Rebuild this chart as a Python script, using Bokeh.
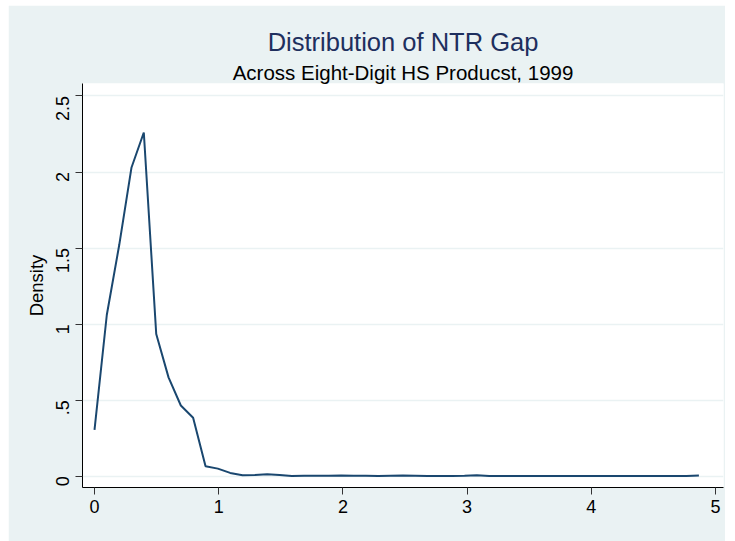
from bokeh.plotting import figure
from bokeh.models import Title, FixedTicker, Range1d
from bokeh.embed import file_html
from bokeh.resources import INLINE

ntr_gap = [0.000, 0.099, 0.199, 0.298, 0.397, 0.497, 0.596, 0.695, 0.794, 0.894,
           0.993, 1.092, 1.192, 1.291, 1.390, 1.490, 1.589, 1.688, 1.787, 1.887,
           1.986, 2.085, 2.185, 2.284, 2.383, 2.483, 2.582, 2.681, 2.780, 2.880,
           2.979, 3.078, 3.178, 3.277, 3.376, 3.476, 3.575, 3.674, 3.773, 3.873,
           3.972, 4.071, 4.171, 4.270, 4.369, 4.469, 4.568, 4.667, 4.766, 4.866]
density = [0.305, 1.060, 1.520, 2.030, 2.260, 0.935, 0.650, 0.465, 0.385, 0.065,
           0.050, 0.022, 0.007, 0.008, 0.013, 0.008, 0.002, 0.004, 0.004, 0.004,
           0.005, 0.004, 0.004, 0.002, 0.004, 0.005, 0.004, 0.002, 0.002, 0.002,
           0.003, 0.006, 0.002, 0.002, 0.002, 0.002, 0.002, 0.002, 0.002, 0.002,
           0.002, 0.002, 0.002, 0.002, 0.002, 0.002, 0.002, 0.002, 0.002, 0.005]

x_ticks = [0, 1, 2, 3, 4, 5]
y_ticks = [0, 0.5, 1, 1.5, 2, 2.5]
y_tick_labels = ["0", ".5", "1", "1.5", "2", "2.5"]

FONT = "Liberation Sans"
BG = "#eaf2f3"
NAVY = "#1a476f"

p = figure(width=717, height=536, output_backend="svg", toolbar_location=None,
           x_range=Range1d(-0.0966, 5.064), y_range=Range1d(-0.074, 2.582),
           min_border_left=74, min_border_right=2, min_border_top=78, min_border_bottom=54)
p.margin = (5, 0, 0, 8)

p.add_layout(Title(text="Across Eight-Digit HS Producst, 1999", align="center",
                   text_font=FONT, text_font_size="20.5px", text_font_style="normal",
                   text_color="black", standoff=0), "above")
p.add_layout(Title(text="Distribution of NTR Gap", align="center",
                   text_font=FONT, text_font_size="25.5px", text_font_style="normal",
                   text_color="#1e2f5e", standoff=5), "above")

p.line(ntr_gap, density, line_color=NAVY, line_width=2)

p.background_fill_color = "white"
p.border_fill_color = BG
p.outline_line_color = None

p.xgrid.visible = False
p.ygrid.grid_line_color = BG
p.ygrid.grid_line_width = 1.5

p.xaxis.ticker = FixedTicker(ticks=x_ticks)
p.yaxis.ticker = FixedTicker(ticks=y_ticks)
p.yaxis.major_label_overrides = {t: l for t, l in zip(y_ticks, y_tick_labels)}
p.yaxis.major_label_orientation = 1.5707963
p.yaxis.axis_label = "Density"

for ax in (p.xaxis, p.yaxis):
    ax.axis_line_color = "black"
    ax.axis_line_width = 1
    ax.major_tick_line_color = "#333333"
    ax.major_tick_out = 7
    ax.major_tick_in = 0
    ax.minor_tick_line_color = None
    ax.major_label_text_font = FONT
    ax.major_label_text_font_size = "18px"
    ax.major_label_text_color = "black"
    ax.axis_label_text_font = FONT
    ax.axis_label_text_font_size = "18.5px"
    ax.axis_label_text_font_style = "normal"
    ax.axis_label_text_color = "black"

p.xaxis.major_label_standoff = 5
p.yaxis.major_label_standoff = 13
p.yaxis.axis_label_standoff = 0

open("out.html", "w").write(file_html(p, INLINE))
